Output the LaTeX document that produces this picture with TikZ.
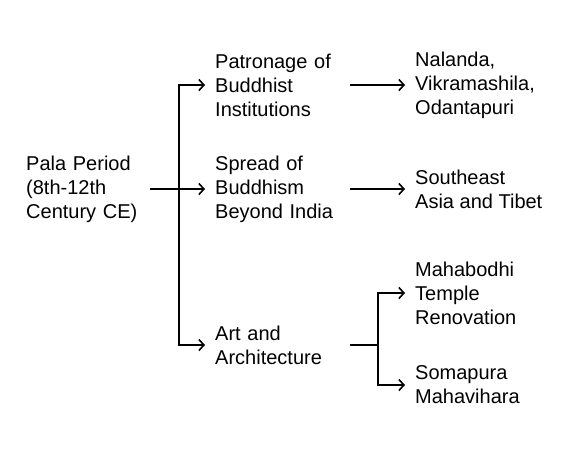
\documentclass[tikz,border=0pt]{standalone}
\usepackage{fontspec}
\setmainfont{Liberation Sans}
\usetikzlibrary{arrows.meta, positioning}

\begin{document}
\begin{tikzpicture}[x=1pt, y=1pt,
  item/.style={anchor=west, align=left, inner sep=0pt, font=\fontsize{20}{24}\selectfont},
  conn/.style={-{Straight Barb[length=5pt, width=11pt]}, line width=1.6pt, shorten >=10pt},
  link/.style={line width=1.6pt}]
  \useasboundingbox (0,0) rectangle (570,-458);

  % Root
  \node[item, text width=124pt] (pala) at (26,-189) {Pala Period\\(8th-12th\\Century CE)};

  % First level
  \node[item, text width=135pt] (patron) at (215,-85) {Patronage of\\Buddhist\\Institutions};
  \node[item, text width=135pt] (spread) at (215,-189) {Spread of\\Buddhism\\Beyond India};
  \node[item, text width=135pt] (art) at (215,-345) {Art and\\Architecture};

  % Second level
  \node[item] (nalanda) at (415,-85) {Nalanda,\\Vikramashila,\\Odantapuri};
  \node[item] (asia) at (415,-189) {Southeast\\Asia and Tibet};
  \node[item] (mahabodhi) at (415,-293) {Mahabodhi\\Temple\\Renovation};
  \node[item] (somapura) at (415,-385) {Somapura\\Mahavihara};

  % Forks
  \coordinate (fork1) at (179,-189);
  \coordinate (fork2) at (378,-345);

  % Connectors
  \draw[conn] (pala.east) -- (spread.west);
  \draw[conn] (fork1) |- (patron.west);
  \draw[conn] (fork1) |- (art.west);
  \draw[conn] (patron.east) -- (nalanda.west);
  \draw[conn] (spread.east) -- (asia.west);
  \draw[link] (art.east) -- (fork2);
  \draw[conn] (fork2) |- (mahabodhi.west);
  \draw[conn] (fork2) |- (somapura.west);
\end{tikzpicture}
\end{document}
